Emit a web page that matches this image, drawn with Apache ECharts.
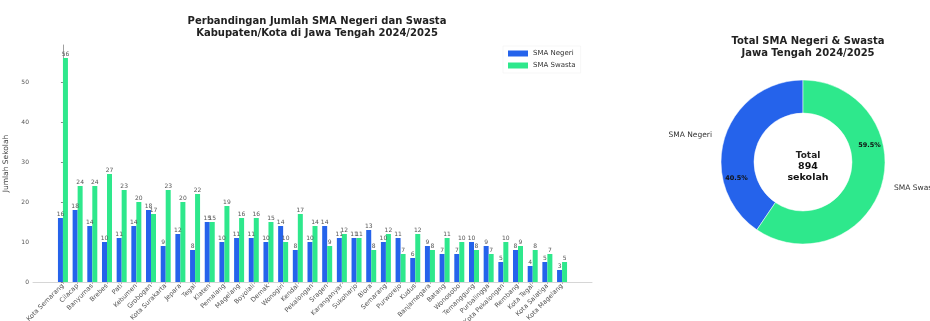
<!DOCTYPE html>
<html>
<head>
<meta charset="utf-8">
<script src="https://cdn.jsdelivr.net/npm/echarts@6/dist/echarts.min.js"></script>
<style>
  html, body { margin: 0; padding: 0; background: #fff; }
  #chart { width: 930px; height: 321px; }
</style>
</head>
<body>
<div id="chart"></div>
<script>
// kabupaten/kota, urut berdasarkan total
const wilayah = [
  'Kota Semarang', 'Cilacap', 'Banyumas', 'Brebes', 'Pati', 'Kebumen', 'Grobogan',
  'Kota Surakarta', 'Jepara', 'Tegal', 'Klaten', 'Pemalang', 'Magelang', 'Boyolali',
  'Demak', 'Wonogiri', 'Kendal', 'Pekalongan', 'Sragen', 'Karanganyar', 'Sukoharjo',
  'Blora', 'Semarang', 'Purworejo', 'Kudus', 'Banjarnegara', 'Batang', 'Wonosobo',
  'Temanggung', 'Purbalingga', 'Kota Pekalongan', 'Rembang', 'Kota Tegal',
  'Kota Salatiga', 'Kota Magelang'
]
const smaNegeri = [16, 18, 14, 10, 11, 14, 18, 9, 12, 8, 15, 10, 11, 11, 10, 14, 8, 10, 14, 11,
  11, 13, 10, 11, 6, 9, 7, 7, 10, 9, 5, 8, 4, 5, 3]
const smaSwasta = [56, 24, 24, 27, 23, 20, 17, 23, 20, 22, 15, 19, 16, 16, 15, 10, 17, 14, 9, 12,
  11, 8, 12, 7, 12, 8, 11, 10, 8, 7, 10, 9, 8, 7, 5]
const yTicks = [0, 10, 20, 30, 40, 50]

const totalNegeri = smaNegeri.reduce((a, b) => a + b, 0)
const totalSwasta = smaSwasta.reduce((a, b) => a + b, 0)
const totalSemua = totalNegeri + totalSwasta

const BLUE = '#2563EB'
const GREEN = '#2EE88C'
const FONT = 'DejaVu Sans'

const chart = echarts.init(document.getElementById('chart'), null, { renderer: 'canvas' })

const idx = wilayah.map((_, i) => i)
const barLabel = {
  show: true,
  position: 'top',
  distance: 1,
  fontSize: 6,
  color: '#555',
  fontFamily: FONT
}

chart.setOption({
  backgroundColor: '#fff',
  textStyle: { fontFamily: FONT },
  animation: false,
  title: [
    {
      text: 'Perbandingan Jumlah SMA Negeri dan Swasta\nKabupaten/Kota di Jawa Tengah 2024/2025',
      left: 312,
      top: 10,
      textAlign: 'center',
      textStyle: { fontSize: 10, fontWeight: 'bold', color: '#222', lineHeight: 12, fontFamily: FONT }
    },
    {
      text: 'Total SMA Negeri & Swasta\nJawa Tengah 2024/2025',
      left: 803,
      top: 30,
      textAlign: 'center',
      textStyle: { fontSize: 10, fontWeight: 'bold', color: '#222', lineHeight: 12, fontFamily: FONT }
    },
    {
      text: '{a|Total}\n{b|' + totalSemua + '}\n{b|sekolah}',
      left: 803,
      top: 145,
      textAlign: 'center',
      textStyle: {
        rich: {
          a: { fontSize: 9, color: '#222', lineHeight: 11, fontFamily: FONT },
          b: { fontSize: 9.5, fontWeight: 'bold', color: '#111', lineHeight: 11, fontFamily: FONT }
        }
      }
    }
  ],
  legend: {
    left: 503,
    top: 46,
    orient: 'vertical',
    itemWidth: 20,
    itemHeight: 6,
    itemGap: 5,
    icon: 'rect',
    padding: [4, 5],
    borderColor: '#eee',
    borderWidth: 0.5,
    data: ['SMA Negeri', 'SMA Swasta'],
    textStyle: { fontSize: 7, color: '#333', fontFamily: FONT }
  },
  grid: { left: 33, right: 338, top: 45, bottom: 39, containLabel: false, outerBoundsMode: 'none' },
  xAxis: {
    type: 'value',
    min: -2.04,
    max: 36.04,
    splitLine: { show: false },
    axisLine: { show: true, lineStyle: { color: '#ccc', width: 0.8 } },
    axisTick: { show: true, customValues: idx, length: 2, lineStyle: { color: '#bbb' } },
    axisLabel: {
      customValues: idx,
      formatter: v => wilayah[Math.round(v)] || '',
      rotate: 45,
      fontSize: 6.5,
      color: '#555',
      margin: 3,
      fontFamily: FONT
    }
  },
  yAxis: {
    type: 'value',
    min: 0,
    max: 59.25,
    name: 'Jumlah Sekolah',
    nameLocation: 'middle',
    nameGap: 21,
    nameRotate: 90,
    nameTextStyle: { fontSize: 7.5, color: '#444', fontFamily: FONT },
    splitLine: { show: false },
    axisLine: { show: true, lineStyle: { color: '#888', width: 0.8 } },
    axisTick: { show: true, customValues: yTicks, length: 2, lineStyle: { color: '#888' } },
    axisLabel: { customValues: yTicks, fontSize: 6, color: '#555', margin: 4, fontFamily: FONT }
  },
  series: [
    {
      name: 'SMA Negeri',
      type: 'bar',
      barWidth: 5,
      barGap: '0%',
      itemStyle: { color: BLUE },
      label: barLabel,
      data: smaNegeri.map((v, i) => [i, v])
    },
    {
      name: 'SMA Swasta',
      type: 'bar',
      barWidth: 5,
      barGap: '0%',
      itemStyle: { color: GREEN },
      label: barLabel,
      data: smaSwasta.map((v, i) => [i, v])
    },
    {
      type: 'pie',
      center: [803, 162],
      radius: [49, 82],
      startAngle: 90,
      clockwise: false,
      silent: true,
      itemStyle: { borderColor: '#fff', borderWidth: 0.5 },
      label: {
        show: true,
        position: 'outside',
        overflow: 'none',
        fontSize: 7.5,
        color: '#333',
        fontFamily: FONT
      },
      labelLine: { show: false, length: 8, length2: 0 },
      data: [
        { name: 'SMA Negeri', value: totalNegeri, itemStyle: { color: BLUE } },
        { name: 'SMA Swasta', value: totalSwasta, itemStyle: { color: GREEN } }
      ]
    },
    {
      // persentase diletakkan seperti pada gambar asli (sedikit diputar)
      type: 'pie',
      center: [803, 162],
      radius: [49, 82],
      startAngle: 121,
      clockwise: false,
      silent: true,
      itemStyle: { color: 'rgba(0,0,0,0)' },
      label: {
        show: true,
        position: 'inside',
        formatter: p => p.percent.toFixed(1) + '%',
        fontSize: 6.5,
        fontWeight: 'bold',
        color: '#111',
        fontFamily: FONT
      },
      labelLine: { show: false },
      data: [
        { name: 'SMA Negeri', value: totalNegeri },
        { name: 'SMA Swasta', value: totalSwasta }
      ]
    }
  ]
})
</script>
</body>
</html>
